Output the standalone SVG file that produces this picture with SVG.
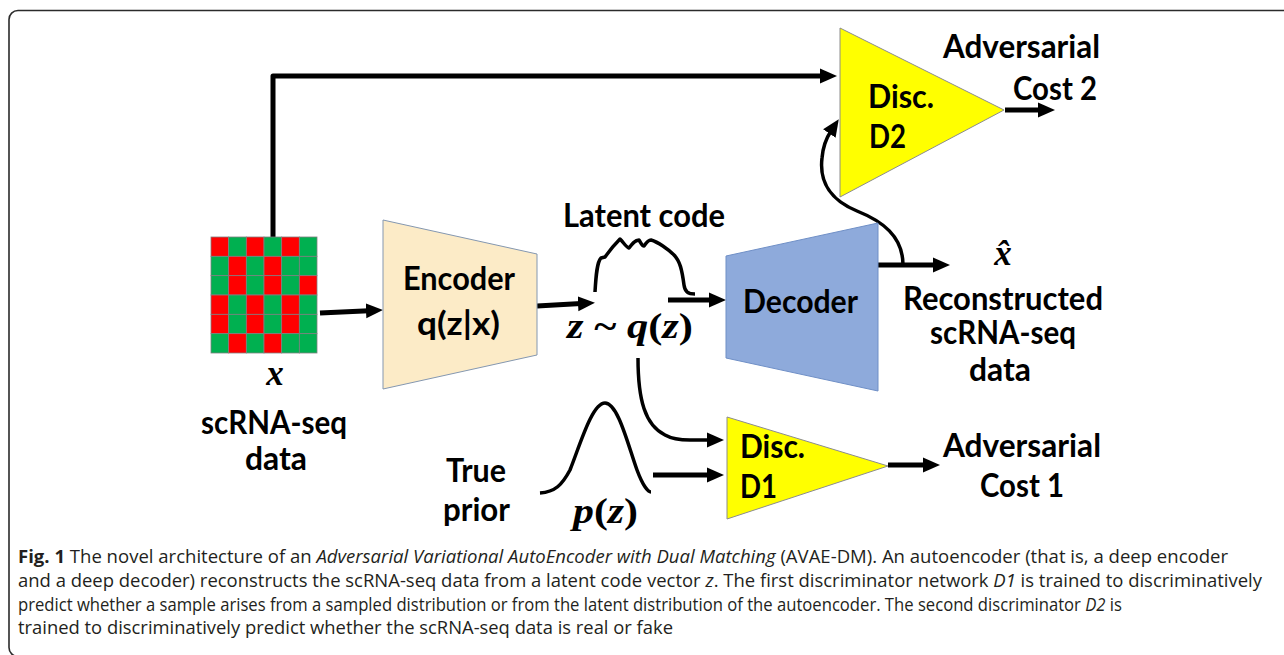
<svg xmlns="http://www.w3.org/2000/svg" width="1284" height="655" viewBox="0 0 1284 655">
<style>
.lbl{font-family:Lato,"Open Sans","Liberation Sans",sans-serif;font-weight:700;font-size:33px;fill:#000}
.math{font-family:"Liberation Serif","DejaVu Serif",serif;font-weight:700;font-size:35px;fill:#000}
.mi{font-style:italic}
.cap{font-family:"Open Sans","Noto Sans","Liberation Sans",sans-serif;font-size:18px;fill:#231f20}
.conn{fill:none;stroke:#000;stroke-linejoin:round}
.thick{stroke-width:5}
.thin{stroke-width:3.5}
.r{fill:#ff0000;stroke:#7f7f7f;stroke-width:0.8}
.g{fill:#00b050;stroke:#7f7f7f;stroke-width:0.8}
.tri{fill:#ffff00;stroke:#8c8c8c;stroke-width:1}
</style>
<defs>
<marker id="ah" markerUnits="userSpaceOnUse" markerWidth="17" markerHeight="17" viewBox="0 0 17 17" refX="3" refY="8.5" orient="auto">
<path d="M0,1 L17,8.5 L0,16 z" fill="#000"/>
</marker>
</defs>
<rect x="9" y="10.5" width="1290" height="646" rx="9" fill="none" stroke="#2b2b2b" stroke-width="1.6"/>

<g id="connectors">
<path class="conn thick" d="M273 237 V76 H823" marker-end="url(#ah)"/>
<path class="conn thick" d="M320 313 L369 310.7" marker-end="url(#ah)"/>
<path class="conn thick" d="M537 306 L581 303.6" marker-end="url(#ah)"/>
<path class="conn thick" d="M668 300 H712" marker-end="url(#ah)"/>
<path class="conn thick" d="M878 265 H936" marker-end="url(#ah)"/>
<path class="conn thin" d="M903 265 C903 236 882 221 857 211 C832 201 819 183 822 158 C823 146 827 137 831 131" marker-end="url(#ah)"/>
<path class="conn thick" d="M1005 110 H1041" marker-end="url(#ah)"/>
<path class="conn thin" d="M638 358 C638 400 645 425 665 435 C672 439 680 440 690 440 H710" marker-end="url(#ah)"/>
<path class="conn thick" d="M653 475 H710" marker-end="url(#ah)"/>
<path class="conn thick" d="M888 465 H926" marker-end="url(#ah)"/>
</g>

<g id="latent-curve">
<path class="conn thin" d="M595 292 C596 275 597 262 601 258 L605 257 C610 250 615 244 620 239 C624 243 626 247 629 248 C632 244 635 240 639 240 C641 243 642 246 644 246 C646 243 648 240 651 240 C658 242 668 249 674 255 C680 261 682 270 684 285 C685 292 688 294 695 294"/>
</g>
<g id="prior-curve">
<path class="conn thin" d="M540 493 C555 492 562 485 570 470 C580 445 592 403 605 403 C618 403 628 445 637 470 C643 486 648 492 651 492"/>
</g>

<g id="data-grid">
<rect class="r" x="211" y="237" width="17.67" height="19.33"/><rect class="g" x="228.67" y="237" width="17.67" height="19.33"/><rect class="r" x="246.33" y="237" width="17.67" height="19.33"/><rect class="g" x="264" y="237" width="17.67" height="19.33"/><rect class="r" x="281.67" y="237" width="17.67" height="19.33"/><rect class="g" x="299.33" y="237" width="17.67" height="19.33"/>
<rect class="g" x="211" y="256.33" width="17.67" height="19.33"/><rect class="r" x="228.67" y="256.33" width="17.67" height="19.33"/><rect class="g" x="246.33" y="256.33" width="17.67" height="19.33"/><rect class="r" x="264" y="256.33" width="17.67" height="19.33"/><rect class="g" x="281.67" y="256.33" width="17.67" height="19.33"/><rect class="g" x="299.33" y="256.33" width="17.67" height="19.33"/>
<rect class="g" x="211" y="275.67" width="17.67" height="19.33"/><rect class="r" x="228.67" y="275.67" width="17.67" height="19.33"/><rect class="g" x="246.33" y="275.67" width="17.67" height="19.33"/><rect class="r" x="264" y="275.67" width="17.67" height="19.33"/><rect class="g" x="281.67" y="275.67" width="17.67" height="19.33"/><rect class="r" x="299.33" y="275.67" width="17.67" height="19.33"/>
<rect class="r" x="211" y="295" width="17.67" height="19.33"/><rect class="g" x="228.67" y="295" width="17.67" height="19.33"/><rect class="r" x="246.33" y="295" width="17.67" height="19.33"/><rect class="g" x="264" y="295" width="17.67" height="19.33"/><rect class="r" x="281.67" y="295" width="17.67" height="19.33"/><rect class="g" x="299.33" y="295" width="17.67" height="19.33"/>
<rect class="r" x="211" y="314.33" width="17.67" height="19.33"/><rect class="g" x="228.67" y="314.33" width="17.67" height="19.33"/><rect class="r" x="246.33" y="314.33" width="17.67" height="19.33"/><rect class="g" x="264" y="314.33" width="17.67" height="19.33"/><rect class="r" x="281.67" y="314.33" width="17.67" height="19.33"/><rect class="g" x="299.33" y="314.33" width="17.67" height="19.33"/>
<rect class="g" x="211" y="333.67" width="17.67" height="19.33"/><rect class="r" x="228.67" y="333.67" width="17.67" height="19.33"/><rect class="g" x="246.33" y="333.67" width="17.67" height="19.33"/><rect class="r" x="264" y="333.67" width="17.67" height="19.33"/><rect class="g" x="281.67" y="333.67" width="17.67" height="19.33"/><rect class="g" x="299.33" y="333.67" width="17.67" height="19.33"/>
<text class="math mi" x="275" y="385" text-anchor="middle">x</text>
<text class="lbl" x="201" y="434" textLength="146" lengthAdjust="spacingAndGlyphs">scRNA-seq</text>
<text class="lbl" x="245" y="470" textLength="62" lengthAdjust="spacingAndGlyphs">data</text>
</g>

<g id="encoder">
<polygon points="383,220 537,254 537,355 383,389" fill="#fcebc7" stroke="#8497b0" stroke-width="1"/>
<text class="lbl" x="403" y="290" textLength="112" lengthAdjust="spacingAndGlyphs">Encoder</text>
<text class="lbl" x="417" y="335" textLength="83" lengthAdjust="spacingAndGlyphs">q(z|x)</text>
</g>

<g id="latent">
<text class="lbl" x="563" y="227" textLength="162" lengthAdjust="spacingAndGlyphs">Latent code</text>
<text class="math" x="567" y="338" textLength="126" lengthAdjust="spacingAndGlyphs"><tspan class="mi">z</tspan> ~ <tspan class="mi">q</tspan>(<tspan class="mi">z</tspan>)</text>
</g>

<g id="decoder">
<polygon points="726,256 878,223 878,391 726,358" fill="#8eaadb" stroke="#6f8fc6" stroke-width="1"/>
<text class="lbl" x="743" y="313" textLength="115" lengthAdjust="spacingAndGlyphs">Decoder</text>
</g>

<g id="reconstructed">
<text class="math mi" x="1003" y="265" text-anchor="middle">x̂</text>
<text class="lbl" x="903" y="310" textLength="200" lengthAdjust="spacingAndGlyphs">Reconstructed</text>
<text class="lbl" x="930" y="344" textLength="146" lengthAdjust="spacingAndGlyphs">scRNA-seq</text>
<text class="lbl" x="969" y="381" textLength="62" lengthAdjust="spacingAndGlyphs">data</text>
</g>

<g id="disc-d2">
<polygon class="tri" points="840,28 1004,110 840,197"/>
<text class="lbl" x="868" y="108" textLength="66" lengthAdjust="spacingAndGlyphs">Disc.</text>
<text class="lbl" x="869" y="148" textLength="37" lengthAdjust="spacingAndGlyphs">D2</text>
</g>

<g id="cost2">
<text class="lbl" x="943" y="58" textLength="157" lengthAdjust="spacingAndGlyphs">Adversarial</text>
<text class="lbl" x="1013" y="100" textLength="84" lengthAdjust="spacingAndGlyphs">Cost 2</text>
</g>

<g id="prior">
<text class="lbl" x="446" y="482" textLength="60" lengthAdjust="spacingAndGlyphs">True</text>
<text class="lbl" x="443" y="521" textLength="67" lengthAdjust="spacingAndGlyphs">prior</text>
<text class="math" x="573" y="523" textLength="65" lengthAdjust="spacingAndGlyphs"><tspan class="mi">p</tspan>(<tspan class="mi">z</tspan>)</text>
</g>

<g id="disc-d1">
<polygon class="tri" points="727,417 888,466 727,519"/>
<text class="lbl" x="740" y="458" textLength="65" lengthAdjust="spacingAndGlyphs">Disc.</text>
<text class="lbl" x="740" y="498" textLength="37" lengthAdjust="spacingAndGlyphs">D1</text>
</g>

<g id="cost1">
<text class="lbl" x="943" y="457" textLength="158" lengthAdjust="spacingAndGlyphs">Adversarial</text>
<text class="lbl" x="980" y="497" textLength="84" lengthAdjust="spacingAndGlyphs">Cost 1</text>
</g>

<g id="caption">
<text class="cap" x="18" y="563" textLength="1210" lengthAdjust="spacingAndGlyphs"><tspan font-weight="700">Fig. 1</tspan> The novel architecture of an <tspan font-style="italic">Adversarial Variational AutoEncoder with Dual Matching</tspan> (AVAE-DM). An autoencoder (that is, a deep encoder</text>
<text class="cap" x="18" y="587" textLength="1244" lengthAdjust="spacingAndGlyphs">and a deep decoder) reconstructs the scRNA-seq data from a latent code vector <tspan font-style="italic">z</tspan>. The first discriminator network <tspan font-style="italic">D1</tspan> is trained to discriminatively</text>
<text class="cap" x="18" y="611" textLength="1104" lengthAdjust="spacingAndGlyphs">predict whether a sample arises from a sampled distribution or from the latent distribution of the autoencoder. The second discriminator <tspan font-style="italic">D2</tspan> is</text>
<text class="cap" x="18" y="634" textLength="655" lengthAdjust="spacingAndGlyphs">trained to discriminatively predict whether the scRNA-seq data is real or fake</text>
</g>
</svg>
